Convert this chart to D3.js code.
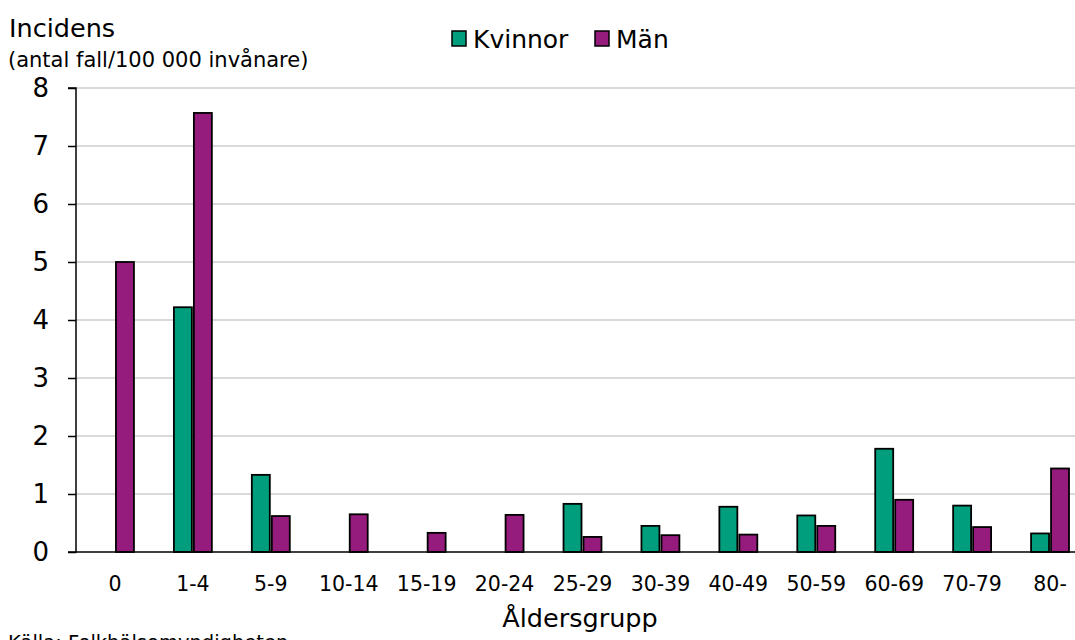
<!DOCTYPE html>
<html>
<head>
<meta charset="utf-8">
<script src="https://cdn.jsdelivr.net/npm/d3@7"></script>
<style>
  html, body { margin: 0; padding: 0; background: #fff; }
  svg { display: block; font-family: "DejaVu Sans", Verdana, sans-serif; }
</style>
</head>
<body>
<svg id="chart" width="1075" height="640"></svg>
<script>
const categories = ["0", "1-4", "5-9", "10-14", "15-19", "20-24", "25-29", "30-39", "40-49", "50-59", "60-69", "70-79", "80-"];
const seriesNames = ["Kvinnor", "Män"];
const kvinnor = [null, 4.22, 1.33, null, null, null, 0.83, 0.45, 0.78, 0.63, 1.78, 0.80, 0.32];
const man = [5.0, 7.57, 0.62, 0.65, 0.33, 0.64, 0.26, 0.29, 0.30, 0.45, 0.90, 0.43, 1.44];
const yTicks = [0, 1, 2, 3, 4, 5, 6, 7, 8];
const colors = ["#009e7d", "#951b7d"];

(function () {
const svg = d3.select("#chart");
const mLeft = 76, mRight = 1089, mTop = 88, mBottom = 552;

const x = d3.scaleBand().domain(categories).range([mLeft, mRight]).paddingInner(0.513).paddingOuter(0.2565);
const x1 = d3.scaleBand().domain(seriesNames).range([0, x.bandwidth()]).paddingInner(0.1);
const y = d3.scaleLinear().domain([0, 8]).range([mBottom, mTop]);

// gridlines
svg.append("g").selectAll("line").data(yTicks.filter(d => d > 0)).join("line")
  .attr("x1", mLeft).attr("x2", 1075)
  .attr("y1", d => y(d)).attr("y2", d => y(d))
  .attr("stroke", "#d9d9d9").attr("stroke-width", 2);

// bars
const data = [];
categories.forEach((c, i) => {
  [kvinnor[i], man[i]].forEach((v, j) => {
    if (v !== null) data.push({ c, s: seriesNames[j], v, color: colors[j] });
  });
});
svg.append("g").selectAll("rect").data(data).join("rect")
  .attr("x", d => x(d.c) + x1(d.s))
  .attr("y", d => y(d.v))
  .attr("width", x1.bandwidth())
  .attr("height", d => y(0) - y(d.v))
  .attr("fill", d => d.color)
  .attr("stroke", "#000").attr("stroke-width", 1.8);

// y axis
const yAxis = d3.axisLeft(y).tickValues(yTicks).tickSize(8).tickPadding(19).tickFormat(d3.format("d"));
const gy = svg.append("g").attr("transform", `translate(${mLeft},0)`).call(yAxis);
gy.select(".domain").attr("stroke", "#000").attr("stroke-width", 1.5).attr("d", `M-8,${mTop}H0V${mBottom}H-8`);
gy.selectAll(".tick line").attr("stroke", "#000").attr("stroke-width", 1.5);
gy.selectAll(".tick text").attr("font-size", 26).attr("fill", "#000")
  .attr("font-family", "'DejaVu Sans', Verdana, sans-serif");

// x axis
const xAxis = d3.axisBottom(x).tickSize(0).tickPadding(24);
const gx = svg.append("g").attr("transform", `translate(0,${mBottom})`).call(xAxis);
gx.select(".domain").attr("stroke", "#000").attr("stroke-width", 1.5).attr("d", `M${mLeft},0H1075`);
gx.selectAll(".tick text").attr("font-size", 20.5).attr("fill", "#000")
  .attr("font-family", "'DejaVu Sans', Verdana, sans-serif");

// titles
svg.append("text").attr("x", 9).attr("y", 37).attr("font-size", 25.5).text("Incidens");
svg.append("text").attr("x", 8).attr("y", 67).attr("font-size", 21).text("(antal fall/100 000 invånare)");
svg.append("text").attr("x", 580).attr("y", 627).attr("text-anchor", "middle").attr("font-size", 25.5).text("Åldersgrupp");
svg.append("text").attr("x", 8).attr("y", 649).attr("font-size", 19.5).text("Källa: Folkhälsomyndigheten");

// legend
const legendX = [452, 595];
const lg = svg.append("g");
seriesNames.forEach((s, i) => {
  lg.append("rect").attr("x", legendX[i]).attr("y", 31).attr("width", 14).attr("height", 15)
    .attr("fill", colors[i]).attr("stroke", "#000").attr("stroke-width", 1.5);
  lg.append("text").attr("x", legendX[i] + 21).attr("y", 48).attr("font-size", 25).text(s);
});
})();
</script>
</body>
</html>
